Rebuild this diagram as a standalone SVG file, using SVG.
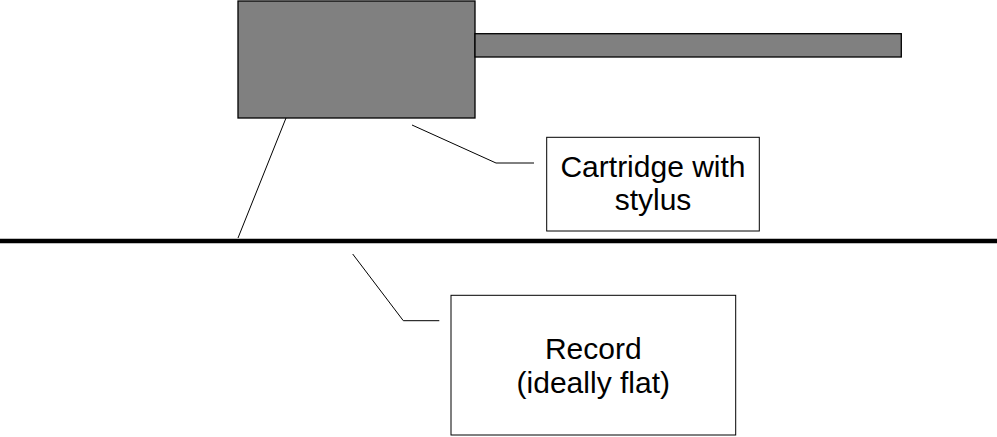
<svg xmlns="http://www.w3.org/2000/svg" width="997" height="437" viewBox="0 0 997 437">
<style>
.box{fill:#fff;stroke:#000;stroke-width:1}
.part{fill:#808080;stroke:#000;stroke-width:1.3}
.ln{fill:none;stroke:#000;stroke-width:1}
.t{font-family:"Liberation Sans",Arial,sans-serif;font-size:30px;fill:#000;text-anchor:middle}
</style>
<rect width="997" height="437" fill="#fff"/>
<g id="cartridge">
<rect class="part" x="238" y="1" width="237" height="117"/>
<rect class="part" x="475" y="33.7" width="426.3" height="23.3"/>
</g>
<g id="record">
<line x1="0" y1="241" x2="997" y2="241" stroke="#000" stroke-width="4.5"/>
</g>
<g id="connectors">
<line class="ln" x1="286" y1="118" x2="238" y2="238"/>
<polyline class="ln" points="412,125 496,163 534,163"/>
<polyline class="ln" points="352.7,254 403.3,320.7 439.3,320.7"/>
</g>
<g id="label-cartridge">
<rect class="box" x="546.7" y="137.3" width="212.6" height="93.7"/>
<text class="t" x="653" y="177">Cartridge with</text>
<text class="t" x="653" y="210">stylus</text>
</g>
<g id="label-record">
<rect class="box" x="451" y="295.3" width="284.7" height="139.7"/>
<text class="t" x="593.3" y="359">Record</text>
<text class="t" x="593.3" y="393">(ideally flat)</text>
</g>
</svg>
